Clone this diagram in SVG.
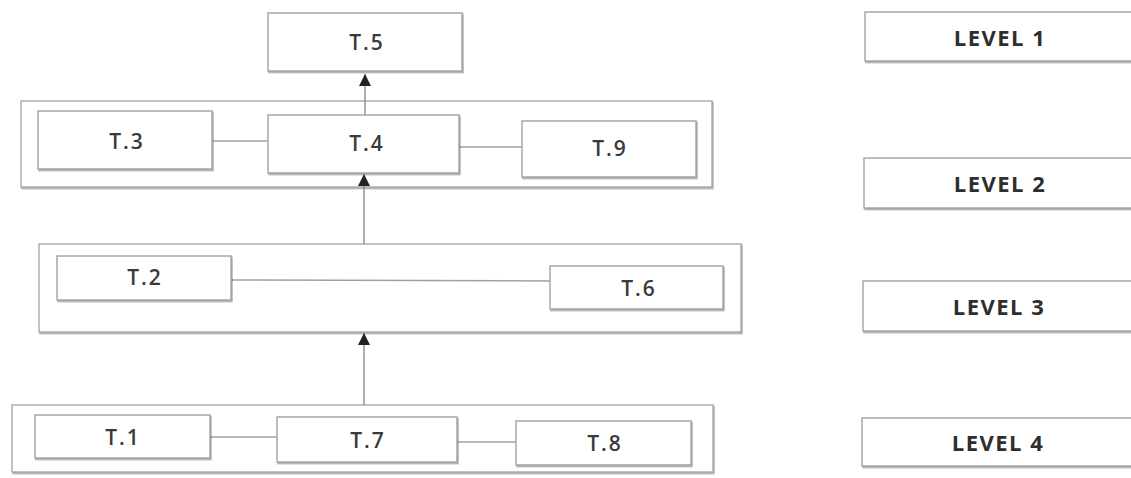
<svg xmlns="http://www.w3.org/2000/svg" width="1131" height="478" viewBox="0 0 1131 478">
  <defs>
    <filter id="sh" x="-5%" y="-10%" width="110%" height="130%">
      <feDropShadow dx="1" dy="1.5" stdDeviation="0.7" flood-color="#666" flood-opacity="0.55"/>
    </filter>
    <marker id="ah" markerUnits="userSpaceOnUse" markerWidth="12" markerHeight="12" viewBox="0 0 12 12" refX="12" refY="6" orient="auto">
      <path d="M0,0 L12,6 L0,12 z" fill="#222"/>
    </marker>
  </defs>
  <style>
    .box { fill: #fff; stroke: #a2a2a2; stroke-width: 1.4; filter: url(#sh); }
    .cont { fill: #fff; stroke: #a8a8a8; stroke-width: 1.4; filter: url(#sh); }
    .lbl { font-family: "Open Sans", "Liberation Sans", sans-serif; font-size: 21px; font-weight: 600; fill: #3a3a3a; text-anchor: middle; dominant-baseline: central; letter-spacing: 2px; }
    .lvl { font-family: "Open Sans", "Liberation Sans", sans-serif; font-size: 22px; font-weight: 700; fill: #2e2e2e; text-anchor: middle; dominant-baseline: central; letter-spacing: 1.5px; }
    .link { stroke: #a0a0a0; stroke-width: 1.5; fill: none; }
    .arrow { stroke: #7a7a7a; stroke-width: 1.2; fill: none; marker-end: url(#ah); }
  </style>
  <rect width="1131" height="478" fill="#fff"/>

  <!-- containers -->
  <g id="level2-group"><rect class="cont" x="21" y="101" width="691" height="86"/></g>
  <g id="level3-group"><rect class="cont" x="39" y="244" width="702" height="88"/></g>
  <g id="level4-group"><rect class="cont" x="12" y="405" width="701" height="67"/></g>

  <!-- connectors -->
  <g id="connectors">
    <line class="link" x1="212" y1="141" x2="268" y2="141"/>
    <line class="link" x1="459" y1="147" x2="522" y2="147"/>
    <line class="link" x1="231" y1="280" x2="550" y2="281"/>
    <line class="link" x1="210" y1="437" x2="277" y2="437"/>
    <line class="link" x1="457" y1="442" x2="516" y2="442"/>
    <line class="arrow" x1="365" y1="115" x2="365" y2="74"/>
    <line class="arrow" x1="364" y1="244" x2="364" y2="174"/>
    <line class="arrow" x1="364" y1="405" x2="364" y2="333"/>
  </g>

  <!-- nodes -->
  <g id="t5"><rect class="box" x="268" y="13" width="194" height="58"/><text class="lbl" x="367" y="42">T.5</text></g>
  <g id="t3"><rect class="box" x="38" y="111" width="174" height="58"/><text class="lbl" x="127" y="141">T.3</text></g>
  <g id="t4"><rect class="box" x="268" y="115" width="191" height="58"/><text class="lbl" x="367" y="143">T.4</text></g>
  <g id="t9"><rect class="box" x="522" y="121" width="174" height="56"/><text class="lbl" x="610" y="148">T.9</text></g>
  <g id="t2"><rect class="box" x="57" y="256" width="174" height="44"/><text class="lbl" x="145" y="277">T.2</text></g>
  <g id="t6"><rect class="box" x="550" y="266" width="173" height="43"/><text class="lbl" x="639" y="288">T.6</text></g>
  <g id="t1"><rect class="box" x="35" y="415" width="175" height="43"/><text class="lbl" x="123" y="437">T.1</text></g>
  <g id="t7"><rect class="box" x="277" y="417" width="180" height="45"/><text class="lbl" x="368" y="440">T.7</text></g>
  <g id="t8"><rect class="box" x="516" y="421" width="175" height="44"/><text class="lbl" x="605" y="443">T.8</text></g>

  <!-- level labels -->
  <g id="level1"><rect class="box" x="865" y="12" width="272" height="49"/><text class="lvl" x="1000" y="37">LEVEL 1</text></g>
  <g id="level2"><rect class="box" x="864" y="158" width="272" height="50"/><text class="lvl" x="1000" y="183">LEVEL 2</text></g>
  <g id="level3"><rect class="box" x="863" y="281" width="272" height="50"/><text class="lvl" x="999" y="306">LEVEL 3</text></g>
  <g id="level4"><rect class="box" x="862" y="418" width="272" height="48"/><text class="lvl" x="998" y="442">LEVEL 4</text></g>
</svg>
